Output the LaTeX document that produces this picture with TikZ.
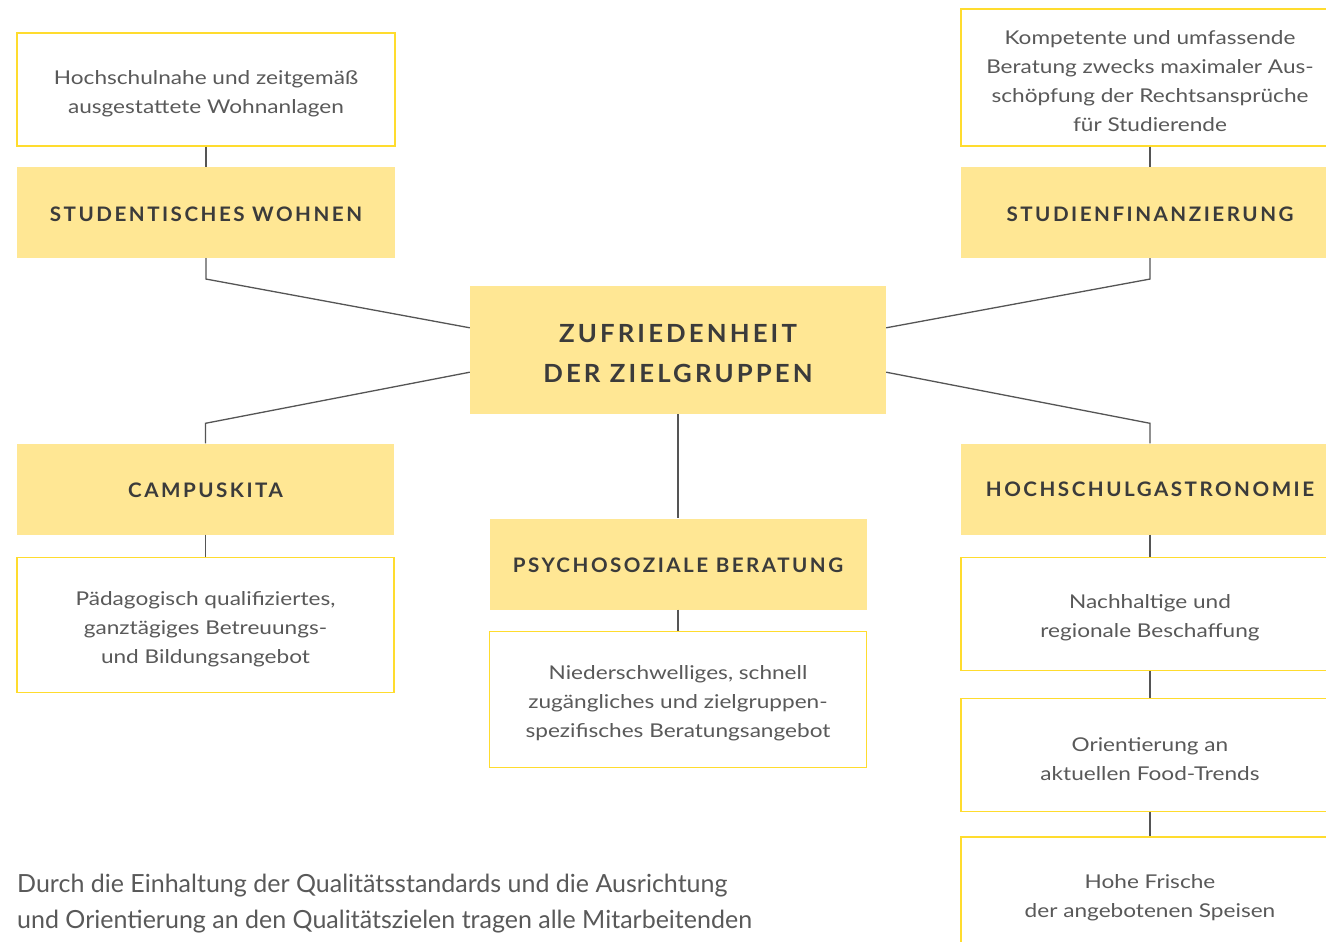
\documentclass[tikz,border=0pt]{standalone}
\usepackage{fontspec}
\setmainfont[FakeStretch=1.19]{Lato}
\newfontfamily\grundschrift{Lato}
\newfontfamily\kopfschrift[LetterSpace=12.5,FakeStretch=1.03]{Lato}
\usetikzlibrary{calc,positioning}
\definecolor{zielgelb}{HTML}{FFE794}
\definecolor{randgelb}{HTML}{FFDC2E}
\definecolor{kopfgrau}{HTML}{3B3B3B}
\definecolor{textgrau}{HTML}{595959}
\definecolor{liniengrau}{HTML}{555555}
\newcommand\oben[1]{\rule{0pt}{#1}}
\tikzset{
  kopf/.style={fill=zielgelb,minimum width=378pt,minimum height=91pt,inner sep=0pt,text=kopfgrau,
    font=\kopfschrift\bfseries\fontsize{20}{24}\selectfont},
  info/.style={draw=randgelb,line width=1.3pt,fill=white,minimum width=378pt,inner sep=0pt,align=center,
    text=textgrau,font=\fontsize{19}{29}\selectfont},
  linie/.style={draw=liniengrau,line width=1.3pt},
}
\begin{document}
\begin{tikzpicture}[x=1pt,y=-1pt]
  \useasboundingbox (0,0) rectangle (1326,942);
  \clip (0,0) rectangle (1326,942);
  \fill[white] (0,0) rectangle (1326,942);
  % mitte
  \node[kopf,minimum width=416pt,minimum height=128pt,align=center,
    font=\kopfschrift\bfseries\fontsize{25}{40}\selectfont] (ziel) at (678,350) {\oben{26pt}ZUFRIEDENHEIT\\DER ZIELGRUPPEN};
  % links oben
  \node[info,minimum height=113pt] (wohnText) at (206,89.5) {\oben{22pt}Hochschulnahe und zeitgemäß\\ausgestattete Wohnanlagen};
  \node[kopf,below=20pt of wohnText] (wohn) {\oben{18pt}STUDENTISCHES WOHNEN};
  % rechts oben
  \node[info,minimum height=137pt] (finText) at (1150,77.5) {\oben{22pt}Kompetente und umfassende\\Beratung zwecks maximaler Aus-\\schöpfung der Rechtsansprüche\\für Studierende};
  \node[kopf,below=20pt of finText] (fin) {\oben{18pt}STUDIENFINANZIERUNG};
  % links unten
  \node[kopf,minimum width=377pt] (kita) at (205.5,489) {\oben{18pt}CAMPUSKITA};
  \node[info,minimum width=377pt,minimum height=135pt,below=22pt of kita] (kitaText) {\oben{22pt}Pädagogisch qualifiziertes,\\ganztägiges Betreuungs-\\und Bildungsangebot};
  % mitte unten
  \node[kopf,minimum width=377pt] (psy) at (678,564) {\oben{18pt}PSYCHOSOZIALE BERATUNG};
  \node[info,minimum width=377pt,minimum height=136pt,below=21pt of psy] (psyText) {\oben{22pt}Niederschwelliges, schnell\\zugängliches und zielgruppen-\\spezifisches Beratungsangebot};
  % rechts unten
  \node[kopf] (gastro) at (1150,489) {\oben{16pt}HOCHSCHULGASTRONOMIE};
  \node[info,minimum height=113pt,below=22pt of gastro] (gastroA) {\oben{22pt}Nachhaltige und\\regionale Beschaffung};
  \node[info,minimum height=113pt,below=27pt of gastroA] (gastroB) {\oben{22pt}Orientierung an\\aktuellen Food-Trends};
  \node[info,minimum height=113pt,below=24pt of gastroB] (gastroC) {\oben{22pt}Hohe Frische\\der angebotenen Speisen};
  % verbindungen
  \draw[linie] (wohnText) -- (wohn);
  \draw[linie] (finText) -- (fin);
  \draw[linie] (kita) -- (kitaText);
  \draw[linie] (psy) -- (psyText);
  \draw[linie] (gastro) -- (gastroA);
  \draw[linie] (gastroA) -- (gastroB);
  \draw[linie] (gastroB) -- (gastroC);
  \draw[linie] (ziel) -- (psy);
  \draw[linie] (wohn.south) -- ++(0,21) -- ($(ziel.north west)+(0,42)$);
  \draw[linie] (fin.south) -- ++(0,21) -- ($(ziel.north east)+(0,42)$);
  \draw[linie] (kita.north) -- ++(0,-20) -- ($(ziel.south west)+(0,-42)$);
  \draw[linie] (gastro.north) -- ++(0,-20) -- ($(ziel.south east)+(0,-42)$);
  % fliesstext
  \node[anchor=base west,inner sep=0pt,align=left,text=textgrau,font=\grundschrift\fontsize{25}{36}\selectfont] (fliess) at (17,928)
    {Durch die Einhaltung der Qualitätsstandards und die Ausrichtung\\und Orientierung an den Qualitätszielen tragen alle Mitarbeitenden};
\end{tikzpicture}
\end{document}
